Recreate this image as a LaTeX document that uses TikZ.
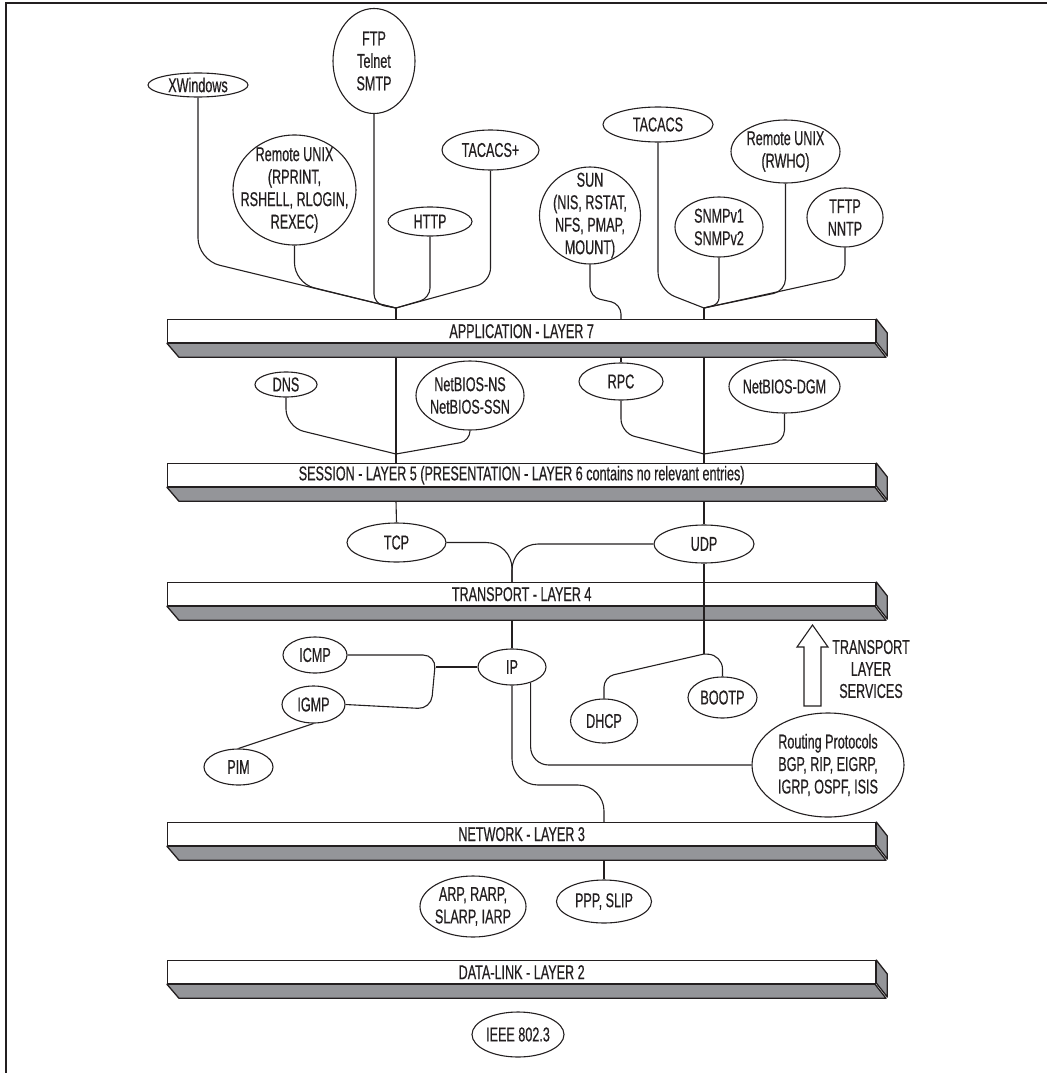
\documentclass[tikz,border=0pt]{standalone}
\usepackage{fontspec}
\setmainfont{Liberation Sans}[FakeStretch=0.63, FakeBold=0.5]
\usetikzlibrary{shapes.geometric,calc}
\definecolor{ink}{RGB}{35,31,32}
\definecolor{slab}{RGB}{148,149,153}

% grey bottom and right faces of a layer slab
\newcommand\slabfaces[1]{%
  \filldraw[slabface] (#1.south west) -- ++(12,14) -- ++(707,0) -- ++(-11,-14) -- cycle;
  \filldraw[slabface] (#1.north east) -- ++(11,14) -- ++(0,23) -- ++(-11,-14) -- cycle;
  \coordinate (#1-b) at ($(#1.south)+(0,14)$);}

\begin{document}
\begin{tikzpicture}[x=1pt,y=-1pt,
  font=\fontsize{20}{22.5}\selectfont,
  every node/.style={text=ink},
  el/.style n args={3}{draw=ink, line width=1.1pt, ellipse, inner sep=0pt,
    minimum width=#1, minimum height=#2,
    label={[align=center, inner sep=0pt]center:#3}},
  bar/.style={draw=ink, line width=1.3pt, fill=white, minimum width=708pt,
    minimum height=23pt, inner sep=0pt, anchor=north west},
  slabface/.style={draw=ink, line width=1.3pt, fill=slab, line join=round},
  link/.style={draw=ink, line width=1.1pt}]

\useasboundingbox (0,0) rectangle (1047,1073);
\draw[ink, line width=2pt] (6,1073) -- (6,3) -- (1047,3);

% ---- layer slabs
\node[bar] (app) at (167,319) {APPLICATION - LAYER 7};
\slabfaces{app}
\node[bar] (ses) at (167,463) {SESSION - LAYER 5 (PRESENTATION - LAYER 6 contains no relevant entries)};
\slabfaces{ses}
\node[bar] (trn) at (167,582) {TRANSPORT - LAYER 4};
\slabfaces{trn}
\node[bar] (net) at (167,822) {NETWORK - LAYER 3};
\slabfaces{net}
\node[bar] (dl) at (167,960) {DATA-LINK - LAYER 2};
\slabfaces{dl}

% ---- application protocols
\node[el={100}{24}{XWindows}] (xw) at (198,85) {};
\node[el={82}{105}{FTP\\Telnet\\SMTP}] (ftp) at (374,61) {};
\node[el={123}{110}{Remote UNIX\\(RPRINT,\\RSHELL, RLOGIN,\\REXEC)}] (runix) at (294.5,190) {};
\node[el={84}{29}{HTTP}] (http) at (430,221.5) {};
\node[el={97}{40}{TACACS+}] (tacp) at (490.5,150) {};
\node[el={101}{97}{SUN\\(NIS, RSTAT,\\NFS, PMAP,\\MOUNT)}] (sun) at (590,215.5) {};
\node[el={110}{35}{TACACS}] (tac) at (658,124.5) {};
\node[el={109}{63}{Remote UNIX\\(RWHO)}] (rwho) at (785.5,151.5) {};
\node[el={88}{60}{SNMPv1\\SNMPv2}] (snmp) at (719,227) {};
\node[el={76}{59}{TFTP\\NNTP}] (tftp) at (845,217.5) {};

\coordinate (ja) at (396,308);
\coordinate (jb) at (704,308);
\draw[link, rounded corners=22pt] (xw.south) -- (198,260) -- (ja);
\draw[link, rounded corners=20pt] (runix.south) -- (294.5,283) -- (ja);
\draw[link, rounded corners=10pt] (ftp.south) -- (374,304) -- (ja);
\draw[link, rounded corners=10pt] (http.south) -- (430,298) -- (ja);
\draw[link, rounded corners=14pt] (tacp.south) -- (490.5,282) -- (ja);
\draw[link] (ja) -- (ja |- app.north);
\draw[link, rounded corners=18pt] (tac.south) -- (658,290) -- (jb);
\draw[link, rounded corners=12pt] (rwho.south) -- (785.5,291) -- (jb);
\draw[link, rounded corners=6pt] (snmp.south) -- (719,304) -- (jb);
\draw[link, rounded corners=12pt] (tftp.south) -- (845,277) -- (jb);
\draw[link] (jb) -- (jb |- app.north);

% ---- session services
\node[el={62}{25}{DNS}] (dns) at (286,384.5) {};
\node[el={108}{69}{NetBIOS-NS\\NetBIOS-SSN}] (nbns) at (470,395.5) {};
\node[el={84}{37}{RPC}] (rpc) at (621,381.5) {};
\node[el={111}{53}{NetBIOS-DGM}] (dgm) at (784.5,386.5) {};

\draw[link, rounded corners=10pt] (sun.south) -- (590,297) -- (621,304) -- (rpc |- app.north);
\draw[link] (rpc |- app-b) -- (rpc.north);

\coordinate (jc) at (396,454);
\coordinate (jd) at (704,454);
\draw[link, rounded corners=18pt] (dns.south) -- (286,427) -- (jc);
\draw[link, rounded corners=10pt] (nbns.south) -- (470,441) -- (jc);
\draw[link] (ja |- app-b) -- (jc) -- (jc |- ses.north);
\draw[link, rounded corners=14pt] (rpc.south) -- (621,433) -- (jd);
\draw[link, rounded corners=12pt] (dgm.south) -- (784.5,442) -- (jd);
\draw[link] (jb |- app-b) -- (jd) -- (jd |- ses.north);

% ---- transport
\node[el={99}{39}{TCP}] (tcp) at (396.5,542.5) {};
\node[el={100}{38}{UDP}] (udp) at (704,544) {};
\coordinate (jf) at (512,582);
\draw[link] (ja |- ses-b) -- (tcp.north);
\draw[link] (jb |- ses-b) -- (udp.north);
\draw[link, rounded corners=26pt] (tcp.east) -- (512,542.5) -- (jf);
\draw[link, rounded corners=26pt] (udp.west) -- (512,544) -- (jf);

\node[el={67}{44}{DHCP}] (dhcp) at (604,721) {};
\node[el={69}{41}{BOOTP}] (bootp) at (722.5,697.5) {};
\coordinate (jg) at (704,654);
\draw[link] (udp.south) -- (jg);
\draw[link, rounded corners=10pt] (jg) -- (604,677) -- (dhcp.north);
\draw[link, rounded corners=14pt] (jg) -- (722.5,655) -- (bootp.north);

% transport layer services arrow
\draw[ink, line width=1.1pt, fill=white, line join=miter]
  (812.5,625) -- (828,647) -- (821,647) -- (821,706) -- (804,706) -- (804,647) -- (797,647) -- cycle;
\node[align=center, font=\fontsize{20}{22}\selectfont] (tls) at (871,669) {TRANSPORT\\LAYER\\SERVICES};

% ---- network
\node[el={68}{36}{IP}] (ip) at (512,667) {};
\node[el={64}{36}{ICMP}] (icmp) at (315,655) {};
\node[el={63}{37}{IGMP}] (igmp) at (313.5,704.5) {};
\node[el={69}{36}{PIM}] (pim) at (238.5,767) {};
\node[el={152}{104}{Routing Protocols\\BGP, RIP, EIGRP,\\IGRP, OSPF, ISIS}] (rout) at (828,765) {};

% ---- data link
\node[el={95}{43}{PPP, SLIP}] (ppp) at (604,901.5) {};
\node[el={106}{61}{ARP, RARP,\\SLARP, IARP}] (arp) at (473,906.5) {};

\draw[link] (jf |- trn-b) -- (ip.north);
\coordinate (jh) at (436,667);
\draw[link] (ip.west) -- (jh);
\draw[link, rounded corners=13pt] (icmp.east) -- (436,655) -- (431,709) -- (igmp.east);
\draw[link] (igmp.south) -- (pim.north);
\draw[link, rounded corners=26pt] (ip.south) -- (512,785) -- (604,785) -- (ppp |- net.north);
\draw[link, rounded corners=18pt] (ip.-40) -- (ip.-40 |- rout.west) -- (rout.west);
\draw[link] (ppp.north |- net-b) -- (ppp.north);

\node[el={92}{45}{IEEE 802.3}] (ieee) at (518,1034.5) {};
\end{tikzpicture}
\end{document}
